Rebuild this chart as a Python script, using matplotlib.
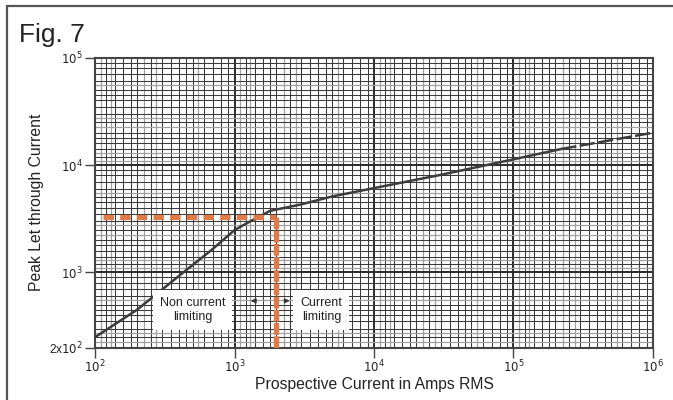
import numpy as np
import matplotlib
matplotlib.use('Agg')
import matplotlib.pyplot as plt
from matplotlib.patches import Rectangle

matplotlib.rcParams['font.family'] = ['Liberation Sans', 'DejaVu Sans']
matplotlib.rcParams['lines.scale_dashes'] = False

# let-through curve (prospective current A rms -> peak let-through A)
prospective = [100, 200, 400, 700, 1000, 1300, 1500, 1800, 3000, 5000,
               10000, 30000, 100000, 220000]
peak = [250, 450, 930, 1660, 2480, 3000, 3300, 3750, 4300, 5100,
        6100, 8100, 11300, 14100]
# extrapolated part drawn dashed
prospective_ext = [220000, 1000000]
peak_ext = [14100, 20000]

# cut-off point marked in orange
cutoff_current = 2000
cutoff_peak = 3300
cutoff_start = 114

x_ticks = [1e2, 1e3, 1e4, 1e5, 1e6]
x_labels = ['$10^2$', '$10^3$', '$10^4$', '$10^5$', '$10^6$']
y_ticks = [2e2, 1e3, 1e4, 1e5]
y_labels = ['2x$10^2$', '$10^3$', '$10^4$', '$10^5$']

dark = [1.2, 1.4, 1.6, 1.8, 2, 2.5, 3, 3.5, 4, 4.5, 5, 6, 7, 8, 9]
light = [1.1, 1.3, 2.25, 2.75, 5.5]

fig = plt.figure(figsize=(6.73, 4.0), dpi=100)
ax = fig.add_axes([0.1412, 0.131, 0.829, 0.725])
ax.set_xscale('log')
ax.set_yscale('log')
ax.set_xlim(1e2, 1e6)
ax.set_ylim(2e2, 1e5)

# log paper grid
for k in range(2, 6):
    for m in light:
        ax.axvline(m * 10**k, color='#a0a0a0', lw=0.9, zorder=0)
    for m in dark:
        ax.axvline(m * 10**k, color='#3a3a3a', lw=0.75, zorder=0)
    ax.axvline(10**k, color='#2a2a2a', lw=1.4, zorder=0)
for k in range(2, 5):
    for m in light:
        if m * 10**k > 2e2:
            ax.axhline(m * 10**k, color='#a0a0a0', lw=0.9, zorder=0)
    for m in dark:
        if m * 10**k > 2e2:
            ax.axhline(m * 10**k, color='#3a3a3a', lw=0.75, zorder=0)
    ax.axhline(10**k, color='#2a2a2a', lw=1.4, zorder=0)

ax.plot(prospective, peak, color='#3c3c3c', lw=1.8, zorder=3)
ax.plot(prospective_ext, peak_ext, color='#3c3c3c', lw=1.8,
        dashes=(11, 2.5), zorder=3)

orange = '#e07a48'
ax.plot([cutoff_start, cutoff_current], [cutoff_peak, cutoff_peak],
        color=orange, lw=3.8, dashes=(7.5, 4.5), solid_capstyle='butt', zorder=4)
ax.plot([cutoff_current, cutoff_current], [cutoff_peak, 2e2],
        color=orange, lw=3.8, dashes=(8.5, 1.0), zorder=4)

box = dict(facecolor='white', edgecolor='none', pad=5)
ax.text(500, 448, 'Non current\nlimiting', ha='center', va='center',
        fontsize=9, color='#222222', bbox=box, zorder=5, linespacing=1.3)
ax.text(4200, 448, 'Current\nlimiting', ha='center', va='center',
        fontsize=9, color='#222222', bbox=box, zorder=5, linespacing=1.3)
ax.annotate('', xy=(1250, 545), xytext=(1500, 545),
            arrowprops=dict(arrowstyle='-|>', color='#333333', lw=0.6,
                            mutation_scale=8), zorder=5)
ax.annotate('', xy=(2600, 545), xytext=(2180, 545),
            arrowprops=dict(arrowstyle='-|>', color='#333333', lw=0.6,
                            mutation_scale=8), zorder=5)

ax.set_xticks(x_ticks)
ax.set_xticklabels(x_labels)
ax.set_yticks(y_ticks)
ax.set_yticklabels(y_labels)
ax.minorticks_off()
ax.tick_params(axis='both', direction='out', length=7, width=1,
               color='#444444', labelsize=8.5, labelcolor='#222222', pad=2)
ax.tick_params(axis='x', pad=1)
for s in ax.spines.values():
    s.set_color('#444444')
    s.set_linewidth(1.5)

ax.set_xlabel('Prospective Current in Amps RMS', fontsize=11.3,
              color='#222222', labelpad=1)
ax.set_ylabel('Peak Let through Current', fontsize=11.3,
              color='#222222', labelpad=0)
ax.yaxis.set_label_coords(-0.092, 0.5)

fig.text(0.028, 0.895, 'Fig. 7', fontsize=19, color='#222222',
         family=['Liberation Sans Narrow', 'Liberation Sans', 'DejaVu Sans'])

# page frame
fig.patches.append(Rectangle((7 / 673, -0.05), 1.0, 1.0 - 6 / 400 + 0.05,
                             transform=fig.transFigure, fill=False,
                             edgecolor='#555555', lw=1.6))

fig.savefig('out.png', dpi=100)
